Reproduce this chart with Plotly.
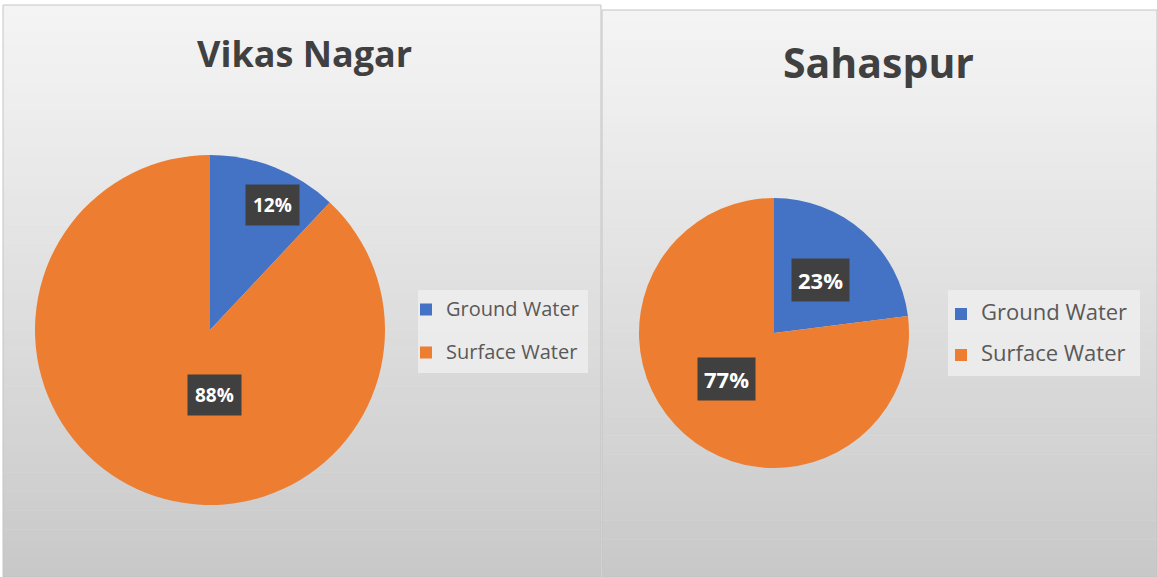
import math
import plotly.graph_objects as go

W, H = 1157, 577

labels = ["Ground Water", "Surface Water"]
vikas_values = [12, 88]
sahaspur_values = [23, 77]
titles = ["Vikas Nagar", "Sahaspur"]
colors = ["#4472C4", "#ED7D31"]

FONT = "Open Sans"

# ---- layout / styling (pixel coords from top-left) ----
panels = [(3, 5, 601, 577), (602, 10, 1157, 577)]
pie_boxes = [(35, 155, 385, 505), (639, 198, 909, 468)]
legend_boxes = [(418, 290, 588, 373), (948, 290, 1140, 376)]
legend_pos = [(406, 293), (941, 298)]
legend_font = [20, 22]          # visible text size
legend_spacing = [43, 41]       # distance between entries
title_pos = [(305, 53), (878, 62)]
title_size = [36, 41]
label_size = [19, 22]
label_pad = [7, 6]
label_frac = [[0.80, 0.37], [0.52, 0.49]]
label_angle_adj = [[5, -26], [0, 4]]


def px(x):
    return x / W


def py(y):
    return 1 - y / H


def lerp_color(c1, c2, t):
    r = [int(round(c1[i] + (c2[i] - c1[i]) * t)) for i in range(3)]
    return "rgb(%d,%d,%d)" % tuple(r)


shapes = []
top_c = (244, 244, 244)
bot_c = (200, 200, 200)
NB = 60
for (x0, y0, x1, y1) in panels:
    h = (y1 - y0) / NB
    for i in range(NB):
        t = (i + 0.5) / NB
        shapes.append(dict(type="rect", xref="paper", yref="paper", layer="below",
                           x0=px(x0), x1=px(x1), y0=py(y0 + i * h), y1=py(y0 + (i + 1) * h + 0.5),
                           fillcolor=lerp_color(top_c, bot_c, t ** 1.1), line=dict(width=0)))
    shapes.append(dict(type="rect", xref="paper", yref="paper", layer="below",
                       x0=px(x0), x1=px(x1), y0=py(y1), y1=py(y0),
                       fillcolor="rgba(0,0,0,0)", line=dict(color="#c4c4c4", width=1)))

for (x0, y0, x1, y1) in legend_boxes:
    shapes.append(dict(type="rect", xref="paper", yref="paper", layer="below",
                       x0=px(x0), x1=px(x1), y0=py(y1), y1=py(y0),
                       fillcolor="rgba(240,240,240,0.75)", line=dict(width=0)))

fig = go.Figure()
annotations = []
all_values = [vikas_values, sahaspur_values]
groups = ["vikas", "sahaspur"]
for k, vals in enumerate(all_values):
    x0, y0, x1, y1 = pie_boxes[k]
    legend_labels = ["<span style='font-size:%dpx'>%s</span><br> " % (legend_font[k], l) for l in labels]
    fig.add_trace(go.Pie(
        labels=legend_labels, values=vals, sort=False, direction="clockwise", rotation=0,
        marker=dict(colors=colors, line=dict(width=0)),
        textinfo="none", hoverinfo="percent",
        domain=dict(x=[px(x0), px(x1)], y=[py(y1), py(y0)]),
        legend="legend" if k == 0 else "legend2",
        legendgroup=groups[k],
        showlegend=True,
    ))
    # data labels from the values
    cx, cy = (x0 + x1) / 2, (y0 + y1) / 2
    r = (x1 - x0) / 2
    total = sum(vals)
    start = 0.0
    for j, v in enumerate(vals):
        mid = (start + v / 2) / total * 2 * math.pi + math.radians(label_angle_adj[k][j])
        start += v
        f = label_frac[k][j]
        lx = cx + f * r * math.sin(mid)
        ly = cy - f * r * math.cos(mid)
        annotations.append(dict(
            x=px(lx), y=py(ly), xref="paper", yref="paper", showarrow=False,
            xanchor="center", yanchor="middle",
            text="<b>%d%%</b>" % round(100 * v / total),
            font=dict(family=FONT, size=label_size[k], color="white"),
            bgcolor="#404040", borderpad=label_pad[k],
        ))
    tx, ty = title_pos[k]
    annotations.append(dict(
        x=px(tx), y=py(ty), xref="paper", yref="paper", showarrow=False,
        xanchor="center", yanchor="middle",
        text="<b>%s</b>" % titles[k],
        font=dict(family=FONT, size=title_size[k], color="#404040"),
    ))

leg_common = dict(bgcolor="rgba(0,0,0,0)", borderwidth=0, valign="top",
                  xanchor="left", yanchor="top", itemclick=False, itemdoubleclick=False)


def leg_size(k):
    # entry height = 2 lines * 1.3 * size + 3
    return (legend_spacing[k] - 3) / 2.6


fig.update_layout(
    width=W, height=H,
    margin=dict(l=0, r=0, t=0, b=0),
    paper_bgcolor="white", plot_bgcolor="white",
    font=dict(family=FONT),
    shapes=shapes,
    annotations=annotations,
    legend=dict(x=px(legend_pos[0][0]), y=py(legend_pos[0][1]),
                font=dict(size=leg_size(0), color="#595959", family=FONT), **leg_common),
    legend2=dict(x=px(legend_pos[1][0]), y=py(legend_pos[1][1]),
                 font=dict(size=leg_size(1), color="#595959", family=FONT), **leg_common),
)

fig.write_html("out.html", config={"displayModeBar": False},
               post_script="document.body.style.margin='0';")
